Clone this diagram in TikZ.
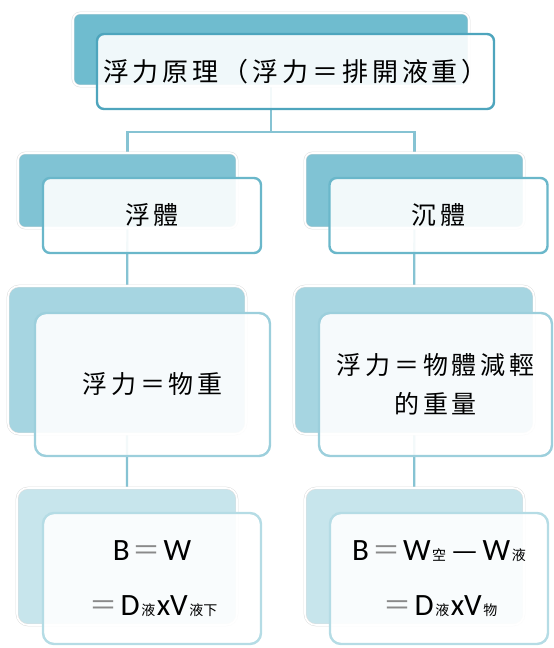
\documentclass[tikz,border=0pt]{standalone}
\usepackage{fontspec}
\setmainfont{Carlito}
\newfontfamily\cjk[LetterSpace=15]{Noto Sans CJK TC}
\newfontfamily\cjkp{Noto Sans CJK TC}
\newcommand\mysub[1]{\hspace{1.5pt}{\cjkp\fontsize{14}{14}\selectfont #1}\hspace{1.5pt}}
\newcommand\myeq{\hspace{3pt}{\cjkp\fontsize{28}{28}\selectfont\color{eqgray}＝}\hspace{3pt}}
\newcommand\mydash{\hspace{5pt}{\cjkp\fontsize{28}{28}\selectfont —}\hspace{5pt}}
\definecolor{eqgray}{HTML}{8A8A8A}
\definecolor{backA}{HTML}{6FBCCF}
\definecolor{backB}{HTML}{80C3D4}
\definecolor{backC}{HTML}{A6D5E1}
\definecolor{backD}{HTML}{C7E5EC}
\definecolor{edgeA}{HTML}{4EA5BD}
\definecolor{edgeB}{HTML}{6AB7CA}
\definecolor{edgeC}{HTML}{9CCFDC}
\definecolor{edgeD}{HTML}{B5DCE5}
\definecolor{linkc}{HTML}{86C3D3}
\pgfdeclarelayer{bg}
\pgfsetlayers{bg,main}
\tikzset{
  backbox/.style={rectangle, rounded corners=7pt, draw=black!13, double=white,
    double distance=1.6pt, line width=0.5pt, inner sep=0pt},
  frontbox/.style={rectangle, rounded corners=7pt, line width=2.4pt, fill=white,
    fill opacity=0.9, text opacity=1, inner sep=0pt, align=center,
    font=\cjk\fontsize{25}{39}\selectfont},
  formbox/.style={frontbox, font=\fontsize{31}{55}\selectfont},
  link/.style={draw=linkc, line width=2.2pt}
}
\begin{document}
\begin{tikzpicture}[x=1pt,y=-1pt]
\useasboundingbox (0,0) rectangle (554,648);
% back boxes
\path
  node[backbox, fill=backA, minimum width=396, minimum height=73] (t0b) at (271,49.5) {}
  node[backbox, fill=backB, minimum width=219, minimum height=75] (l2b) at (127.5,190.5) {}
  node[backbox, fill=backB, minimum width=219, minimum height=75] (r2b) at (414.5,190.5) {}
  node[backbox, fill=backC, minimum width=238, minimum height=148, rounded corners=11pt] (l3b) at (127,360) {}
  node[backbox, fill=backC, minimum width=240, minimum height=148, rounded corners=11pt] (r3b) at (414,360) {}
  node[backbox, fill=backD, minimum width=220, minimum height=137, rounded corners=11pt] (l4b) at (127,556.5) {}
  node[backbox, fill=backD, minimum width=219, minimum height=137, rounded corners=11pt] (r4b) at (414.5,556.5) {};
% connectors behind the boxes
\begin{pgfonlayer}{bg}
  \coordinate (j) at (271,132);
  \draw[link] (t0b.center) -- (j);
  \draw[link] (j) -| (l2b.center);
  \draw[link] (j) -| (r2b.center);
  \draw[link] (l2b.center) -- (l3b.center) -- (l4b.center);
  \draw[link] (r2b.center) -- (r3b.center) -- (r4b.center);
\end{pgfonlayer}
% front boxes with text
\node[frontbox, draw=edgeA, minimum width=397, minimum height=75,
  font=\cjk\fontsize{26}{39}\selectfont] (t0) at (295.5,71.5)
  {浮力原理（浮力＝排開液重）};
\node[frontbox, draw=edgeB, minimum width=218, minimum height=75] (l2) at (152,215.5) {浮體};
\node[frontbox, draw=edgeB, minimum width=218, minimum height=75] (r2) at (438.5,215.5) {沉體};
\node[frontbox, draw=edgeC, minimum width=235, minimum height=143, rounded corners=11pt] (l3) at (152.5,384.5)
  {浮力＝物重};
\node[frontbox, draw=edgeC, minimum width=233, minimum height=143, rounded corners=11pt] (r3) at (435.5,384.5)
  {浮力＝物體減輕\\的重量};
\node[formbox, draw=edgeD, minimum width=218, minimum height=131, rounded corners=11pt] (l4) at (152,578.5)
  {B\myeq W\\\myeq D\mysub{液}xV\mysub{液下}};
\node[formbox, draw=edgeD, minimum width=218, minimum height=131, rounded corners=11pt] (r4) at (439,578.5)
  {B\myeq W\mysub{空}\mydash W\mysub{液}\\\myeq D\mysub{液}xV\mysub{物}};
\end{tikzpicture}
\end{document}
